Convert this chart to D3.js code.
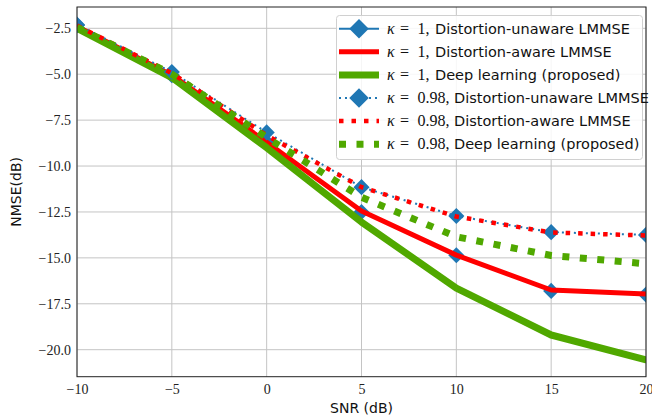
<!DOCTYPE html>
<html>
<head>
<meta charset="utf-8">
<script src="https://cdn.jsdelivr.net/npm/d3@7"></script>
<style>
  body { margin: 0; background: #fff; }
  svg { display: block; }
</style>
</head>
<body>
<div id="chart"></div>
<script>
// data
const snr = [-10, -5, 0, 5, 10, 15, 20];
const k1Unaware = [-2.33, -5.05, -8.69, -12.5, -14.86, -16.8, -17.0];
const k1Aware = [-2.4, -5.05, -8.7, -12.45, -14.85, -16.75, -16.97];
const k1Deep = [-2.5, -5.18, -9.0, -13.05, -16.65, -19.2, -20.55];
const k98Unaware = [-2.3, -4.88, -8.17, -11.15, -12.72, -13.6, -13.75];
const k98Aware = [-2.35, -4.95, -8.33, -11.15, -12.75, -13.62, -13.78];
const k98Deep = [-2.45, -5.0, -8.45, -11.7, -13.85, -14.87, -15.32];

const kappas = ["1", "1", "1", "0.98", "0.98", "0.98"];
const methods = ["Distortion-unaware LMMSE", "Distortion-aware LMMSE", "Deep learning (proposed)",
                 "Distortion-unaware LMMSE", "Distortion-aware LMMSE", "Deep learning (proposed)"];
const xTicks = [-10, -5, 0, 5, 10, 15, 20];
const yTicks = [-20, -17.5, -15, -12.5, -10, -7.5, -5, -2.5];

const blue = "#1f77b4", red = "#ff0000", green = "#50a800";

// line styles, same order as the legend
const series = [
  { values: k1Unaware, color: blue, width: 2, dash: null, marker: true },
  { values: k1Aware, color: red, width: 5, dash: null, marker: false },
  { values: k1Deep, color: green, width: 7, dash: null, marker: false },
  { values: k98Unaware, color: blue, width: 2, dash: "2,4", marker: true },
  { values: k98Aware, color: red, width: 4.5, dash: "4.5,8", marker: false },
  { values: k98Deep, color: green, width: 7, dash: "7,10.5", marker: false }
];

const W = 652, H = 418;
const mLeft = 77, mRight = 646, mTop = 7, mBottom = 376.7;

const svg = d3.select("#chart").append("svg")
  .attr("width", W)
  .attr("height", H);

const x = d3.scaleLinear().domain([-10, 20]).range([mLeft, mRight]);
const y = d3.scaleLinear().domain([-21.47, -1.34]).range([mBottom, mTop]);

svg.append("defs").append("clipPath").attr("id", "plot")
  .append("rect")
  .attr("x", mLeft).attr("y", mTop)
  .attr("width", mRight - mLeft).attr("height", mBottom - mTop);

// grid
svg.append("g")
  .selectAll("line")
  .data(xTicks)
  .join("line")
  .attr("x1", d => x(d)).attr("x2", d => x(d))
  .attr("y1", mTop).attr("y2", mBottom)
  .attr("stroke", "#c4c4c4").attr("stroke-width", 1);

svg.append("g")
  .selectAll("line")
  .data(yTicks)
  .join("line")
  .attr("x1", mLeft).attr("x2", mRight)
  .attr("y1", d => y(d)).attr("y2", d => y(d))
  .attr("stroke", "#c4c4c4").attr("stroke-width", 1);

// axes
const fmtY = d3.format(".1f");
const fmtX = d3.format("d");

const xAxis = svg.append("g")
  .attr("transform", `translate(0,${mBottom})`)
  .call(d3.axisBottom(x).tickValues(xTicks).tickFormat(fmtX).tickSize(0).tickPadding(7));
const yAxis = svg.append("g")
  .attr("transform", `translate(${mLeft},0)`)
  .call(d3.axisLeft(y).tickValues(yTicks).tickFormat(fmtY).tickSize(0).tickPadding(6));

[xAxis, yAxis].forEach(a => {
  a.select(".domain").remove();
  a.selectAll("text")
    .attr("font-family", "'Liberation Serif', serif")
    .attr("font-size", 14)
    .attr("fill", "#222");
});

// lines and markers
const line = d3.line()
  .x((d, i) => x(snr[i]))
  .y(d => y(d));

const plot = svg.append("g").attr("clip-path", "url(#plot)");

series.forEach(s => {
  plot.append("path")
    .datum(s.values)
    .attr("d", line)
    .attr("fill", "none")
    .attr("stroke", s.color)
    .attr("stroke-width", s.width)
    .attr("stroke-dasharray", s.dash)
    .attr("stroke-linejoin", "round")
    .attr("stroke-linecap", s.dash ? "butt" : "round");
  if (s.marker) {
    plot.append("g")
      .selectAll("path")
      .data(s.values)
      .join("path")
      .attr("d", d3.symbol(d3.symbolSquare, 130))
      .attr("transform", (d, i) => `translate(${x(snr[i])},${y(d)}) rotate(45)`)
      .attr("fill", s.color);
  }
});

// frame
svg.append("rect")
  .attr("x", mLeft).attr("y", mTop)
  .attr("width", mRight - mLeft).attr("height", mBottom - mTop)
  .attr("fill", "none")
  .attr("stroke", "#222")
  .attr("stroke-width", 1);

// axis labels
svg.append("text")
  .attr("x", (mLeft + mRight) / 2)
  .attr("y", 413)
  .attr("text-anchor", "middle")
  .attr("font-family", "'DejaVu Sans', sans-serif")
  .attr("font-size", 14)
  .attr("fill", "#111")
  .text("SNR (dB)");

svg.append("text")
  .attr("transform", `translate(21,${(mTop + mBottom) / 2}) rotate(-90)`)
  .attr("text-anchor", "middle")
  .attr("font-family", "'DejaVu Sans', sans-serif")
  .attr("font-size", 14)
  .attr("fill", "#111")
  .text("NMSE(dB)");

// legend
const lx = 336.5, ly = 15.5, lw = 306, lh = 144;
svg.append("rect")
  .attr("x", lx).attr("y", ly)
  .attr("width", lw).attr("height", lh)
  .attr("rx", 3)
  .attr("fill", "#fff").attr("fill-opacity", 0.85)
  .attr("stroke", "#d0d0d0");

const rowY = i => 28.7 + i * 23.1;
const serif = "'Liberation Serif', serif";

series.forEach((s, i) => {
  const g = svg.append("g").attr("transform", `translate(0,${rowY(i)})`);
  g.append("line")
    .attr("x1", 339).attr("x2", 379)
    .attr("stroke", s.color)
    .attr("stroke-width", s.width)
    .attr("stroke-dasharray", s.dash);
  if (s.marker) {
    g.append("path")
      .attr("d", d3.symbol(d3.symbolSquare, 190))
      .attr("transform", "translate(359,0) rotate(45)")
      .attr("fill", s.color);
  }
  g.append("text")
    .attr("x", 387).attr("y", 5)
    .attr("font-family", serif).attr("font-style", "italic").attr("font-size", 16)
    .attr("fill", "#111")
    .text("κ");
  g.append("text")
    .attr("x", 400).attr("y", 5)
    .attr("font-family", serif).attr("font-size", 16)
    .attr("fill", "#111")
    .text("=");
  g.append("text")
    .attr("x", 417.5).attr("y", 5)
    .attr("font-family", serif).attr("font-size", 16)
    .attr("fill", "#111")
    .text(kappas[i] + ",");
  g.append("text")
    .attr("x", kappas[i] === "1" ? 435 : 454).attr("y", 5)
    .attr("font-family", "'DejaVu Sans', sans-serif")
    .attr("font-size", 14.5)
    .attr("fill", "#111")
    .text(methods[i]);
});
</script>
</body>
</html>
